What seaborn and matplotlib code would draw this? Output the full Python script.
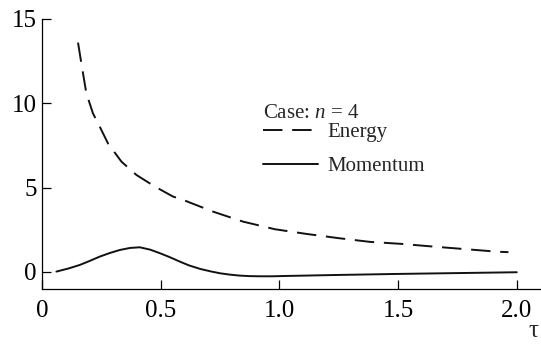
import matplotlib
matplotlib.use("Agg")
import matplotlib.pyplot as plt
import seaborn as sns
import pandas as pd

energy_tau = [0.151, 0.165, 0.186, 0.214, 0.243, 0.278, 0.334, 0.397, 0.475, 0.551,
              0.594, 0.721, 0.847, 0.981, 1.115, 1.25, 1.382, 1.516, 1.649, 1.783,
              1.916, 1.965]
energy_val = [13.6, 12.37, 10.6, 9.4, 8.6, 7.6, 6.54, 5.75, 5.06, 4.47,
              4.27, 3.57, 2.98, 2.53, 2.25, 2.0, 1.78, 1.66, 1.5, 1.35,
              1.2, 1.17]
momentum_tau = [0.06, 0.11, 0.158, 0.20, 0.243, 0.285, 0.327, 0.37, 0.411, 0.455,
                0.496, 0.54, 0.58, 0.62, 0.665, 0.71, 0.749, 0.79, 0.833, 0.875,
                0.918, 0.97, 1.03, 1.25, 1.5, 1.75, 2.0]
momentum_val = [0.02, 0.2, 0.41, 0.65, 0.91, 1.12, 1.30, 1.42, 1.46, 1.32,
                1.11, 0.86, 0.61, 0.38, 0.18, 0.03, -0.08, -0.16, -0.22, -0.25,
                -0.26, -0.26, -0.24, -0.18, -0.12, -0.07, -0.02]

sns.set_style("ticks")
plt.rcParams['font.family'] = ['Liberation Serif', 'DejaVu Serif']
plt.rcParams['mathtext.fontset'] = 'custom'
plt.rcParams['mathtext.rm'] = 'Liberation Serif'
plt.rcParams['mathtext.it'] = 'Liberation Serif:italic'

fig, ax = plt.subplots(figsize=(5.41, 3.45), dpi=100)
fig.subplots_adjust(left=0.078, right=0.999, top=0.945, bottom=0.163)

e = pd.DataFrame({"tau": energy_tau, "val": energy_val})
m = pd.DataFrame({"tau": momentum_tau, "val": momentum_val})
sns.lineplot(data=e, x="tau", y="val", ax=ax, color="#111111", lw=1.4,
             linestyle=(0, (10, 5)), label="Energy", estimator=None)
sns.lineplot(data=m, x="tau", y="val", ax=ax, color="#111111", lw=1.4,
             label="Momentum", estimator=None)

ax.set_xlim(0, 2.1)
ax.set_ylim(-1, 15)
ax.set_xticks([0, 0.5, 1.0, 1.5, 2.0])
ax.set_xticklabels(["0", "0.5", "1.0", "1.5", "2.0"])
ax.set_yticks([0, 5, 10, 15])
ax.tick_params(direction="in", length=6.5, width=0.9, labelsize=18, colors="black")
ax.tick_params(axis="x", pad=8)
ax.tick_params(axis="y", pad=4)
ax.set_xlabel("τ", fontsize=18)
ax.xaxis.set_label_coords(0.985, -0.115)
ax.set_ylabel("")
for s in ["top", "right"]:
    ax.spines[s].set_visible(False)
for s in ["left", "bottom"]:
    ax.spines[s].set_linewidth(0.9)
    ax.spines[s].set_color("black")

leg = ax.legend(title="Case: $n$ = 4", frameon=False, fontsize=15, title_fontsize=15,
                loc="upper left", bbox_to_anchor=(0.443, 0.686), handlelength=2.65,
                handletextpad=0.43, labelspacing=0.7, borderpad=0, borderaxespad=0)
leg._legend_box.align = "left"
leg._legend_box.sep = 0

fig.savefig("out.png", dpi=100)
